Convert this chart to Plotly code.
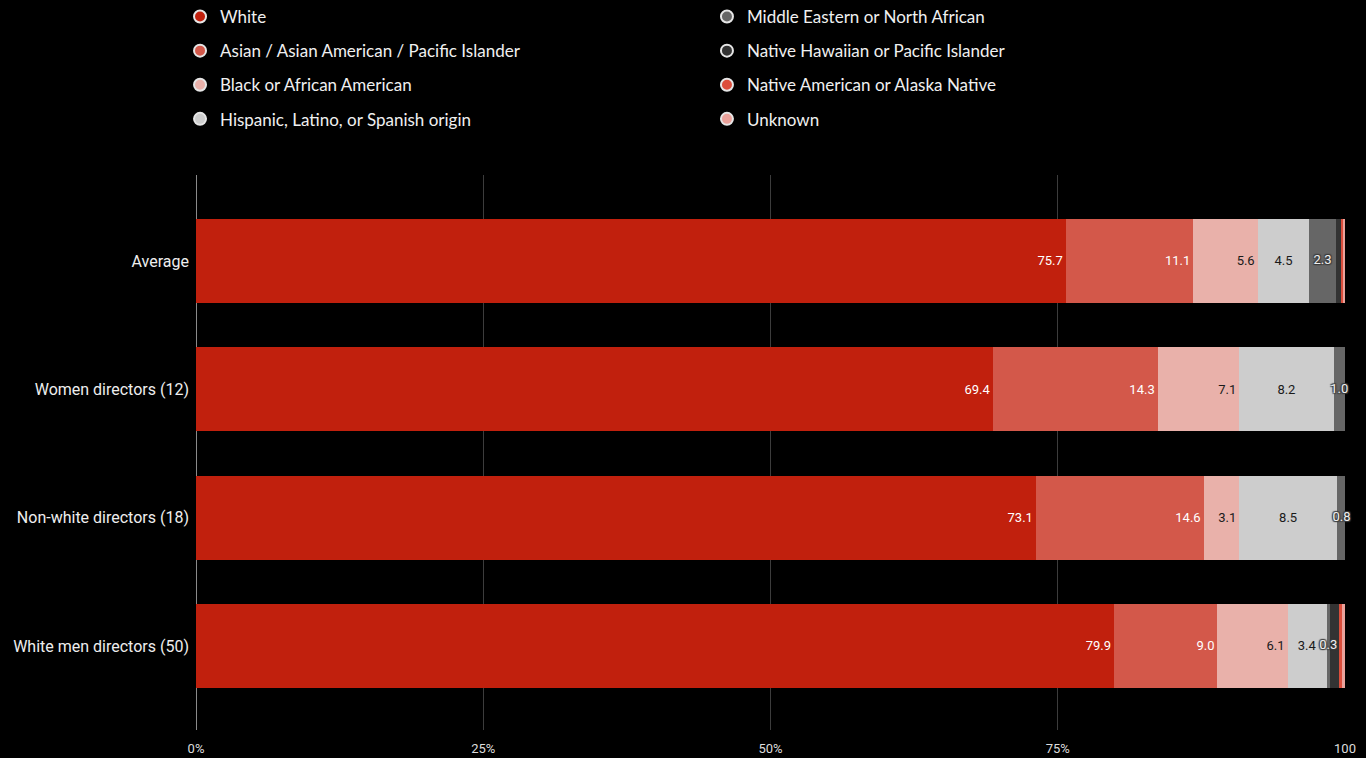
import plotly.graph_objects as go

# Director groups and the ethnic make-up of the casts they hire (percent)
categories = [
    "Average",
    "Women directors (12)",
    "Non-white directors (18)",
    "White men directors (50)",
]
white = [75.7, 69.4, 73.1, 79.9]
asian = [11.1, 14.3, 14.6, 9.0]
black = [5.6, 7.1, 3.1, 6.1]
hispanic = [4.5, 8.2, 8.5, 3.4]
mena = [2.3, 1.0, 0.8, 0.3]
nhpi = [0.5, 0.0, 0.0, 0.8]
native_am = [0.1, 0.0, 0.0, 0.2]
unknown = [0.2, 0.0, 0.0, 0.3]

tick_vals = [0, 25, 50, 75, 100]
tick_text = ["0%", "25%", "50%", "75%", "100"]

# name, values, colour, legend column, legend rank, label mode, label colour, label anchor
series = [
    ("White", white, "#c1200d", "legend", 1, "bar", "#ffffff", "end"),
    ("Asian / Asian American / Pacific Islander", asian, "#d3584a", "legend", 2, "bar", "#ffffff", "end"),
    ("Black or African American", black, "#e9b1aa", "legend", 3, "bar", "#1a1a1a", "end"),
    ("Hispanic, Latino, or Spanish origin", hispanic, "#cdcdcd", "legend", 4, "bar", "#1a1a1a", "middle"),
    ("Middle Eastern or North African", mena, "#666666", "legend2", 5, "overlay", "#f0f0f0", "middle"),
    ("Native Hawaiian or Pacific Islander", nhpi, "#333333", "legend2", 6, None, None, "middle"),
    ("Native American or Alaska Native", native_am, "#dc4e3c", "legend2", 7, None, None, "middle"),
    ("Unknown", unknown, "#eba29b", "legend2", 8, None, None, "middle"),
]

fig = go.Figure()

for name, vals, color, leg, rank, label, tcolor, anchor in series:
    on_bar = label == "bar"
    fig.add_trace(go.Bar(
        y=categories,
        x=vals,
        orientation="h",
        name=name,
        marker=dict(color=color, line=dict(width=0)),
        text=[f"{v:.1f}" for v in vals] if on_bar else None,
        textposition="inside" if on_bar else "none",
        insidetextanchor=anchor,
        textangle=0,
        constraintext="none",
        cliponaxis=False,
        textfont=dict(family="Roboto", size=13, color=tcolor or "#ffffff"),
        hoverinfo="x+name",
        showlegend=False,
    ))

# Labels for the thin Middle Eastern / North African segments sit above
# every bar so that they stay readable where they spill past the segment.
mena_base = [w + a + b + h for w, a, b, h in zip(white, asian, black, hispanic)]
fig.add_trace(go.Scatter(
    x=[base + v / 2 for base, v in zip(mena_base, mena)],
    y=categories,
    mode="text",
    text=[f"{v:.1f}" for v in mena],
    textposition="middle center",
    textfont=dict(
        family="Roboto", size=13, color="#f0f0f0",
        shadow="1px 1px 1px #3a3a3a, -1px -1px 1px #3a3a3a, 1px -1px 1px #3a3a3a, -1px 1px 1px #3a3a3a",
    ),
    cliponaxis=False,
    hoverinfo="skip",
    showlegend=False,
))

# Circular legend keys, split over two columns
for name, vals, color, leg, rank, label, tcolor, anchor in series:
    fig.add_trace(go.Scatter(
        x=[None], y=[None],
        mode="markers",
        name=name,
        marker=dict(symbol="circle", size=15, color=color,
                    line=dict(color="#e6e6e6", width=1)),
        legend=leg,
        legendgroup=name,
        legendrank=rank,
        showlegend=True,
    ))

legend_common = dict(
    orientation="v",
    xanchor="left",
    yanchor="top",
    bgcolor="rgba(0,0,0,0)",
    font=dict(family="Lato", size=17, color="#f0f0f0"),
    tracegroupgap=9,
    itemsizing="constant",
    itemclick=False,
    itemdoubleclick=False,
)

fig.update_layout(
    width=1366,
    height=758,
    margin=dict(l=196, r=21, t=175, b=28, autoexpand=False),
    paper_bgcolor="#000000",
    plot_bgcolor="#000000",
    barmode="stack",
    bargap=0.345,
    uniformtext=dict(minsize=13, mode="show"),
    legend=dict(x=-0.0139, y=1.3171, **legend_common),
    legend2=dict(x=0.4447, y=1.3171, **legend_common),
    xaxis=dict(
        range=[0, 100],
        tickvals=tick_vals,
        ticktext=tick_text,
        showgrid=True,
        gridcolor="#3c3c3c",
        gridwidth=1,
        zeroline=True,
        zerolinecolor="#8a8a8a",
        zerolinewidth=1,
        showline=False,
        ticks="",
        ticklabelstandoff=9,
        tickfont=dict(family="Roboto", size=13, color="#dddddd"),
        fixedrange=True,
    ),
    yaxis=dict(
        type="category",
        categoryorder="array",
        categoryarray=categories,
        range=[3.655, -0.67],
        showgrid=False,
        zeroline=False,
        ticks="",
        ticklabelstandoff=6,
        tickfont=dict(family="Roboto", size=16, color="#eeeeee"),
        fixedrange=True,
    ),
)

fig.write_html("out.html")
